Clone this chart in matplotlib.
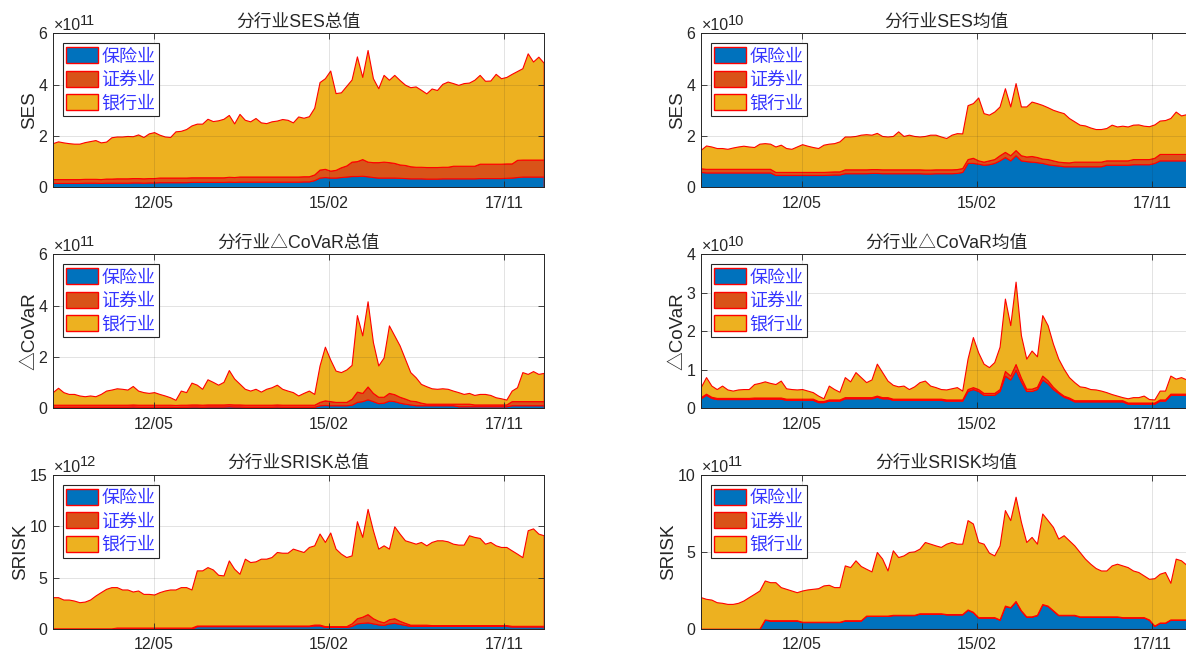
import numpy as np
import pandas as pd
import matplotlib
matplotlib.use("Agg")
import matplotlib.pyplot as plt
from matplotlib.patches import Patch
from matplotlib.ticker import FuncFormatter, FixedLocator
from matplotlib.transforms import offset_copy

plt.rcParams["font.family"] = ["Liberation Sans", "Noto Sans CJK SC", "DejaVu Sans"]

# Observation dates: 93 evenly spaced samples over the study period
dates = pd.date_range("2010-09-30", "2018-06-18", periods=93)

industries = ["保险业", "证券业", "银行业"]
industry_colors = ["#0072BD", "#D95319", "#EDB120"]
tick_dates = pd.to_datetime(["2012-05-01", "2015-02-01", "2017-11-01"])
tick_labels = ["12/05", "15/02", "17/11"]

# ---- SES total (x1e11) ----
ses_sum_ins = [0.17, 0.17, 0.17, 0.17, 0.17, 0.17, 0.18, 0.18, 0.18, 0.17,
               0.18, 0.18, 0.18, 0.18, 0.18, 0.19, 0.19, 0.18, 0.19, 0.19,
               0.20, 0.20, 0.20, 0.20, 0.20, 0.20, 0.21, 0.21, 0.21, 0.21,
               0.21, 0.21, 0.21, 0.22, 0.21, 0.22, 0.22, 0.22, 0.22, 0.22,
               0.22, 0.22, 0.22, 0.22, 0.22, 0.22, 0.22, 0.23, 0.23, 0.28,
               0.38, 0.40, 0.38, 0.38, 0.40, 0.42, 0.44, 0.44, 0.45, 0.43,
               0.40, 0.38, 0.38, 0.38, 0.38, 0.37, 0.36, 0.35, 0.35, 0.35,
               0.34, 0.34, 0.34, 0.35, 0.35, 0.35, 0.35, 0.35, 0.35, 0.35,
               0.36, 0.36, 0.36, 0.36, 0.36, 0.37, 0.38, 0.40, 0.42, 0.42,
               0.42, 0.42, 0.42]
ses_sum_sec = [0.15, 0.15, 0.15, 0.15, 0.15, 0.15, 0.15, 0.15, 0.15, 0.15,
               0.16, 0.16, 0.17, 0.17, 0.17, 0.17, 0.17, 0.17, 0.17, 0.17,
               0.18, 0.18, 0.18, 0.18, 0.18, 0.18, 0.18, 0.18, 0.18, 0.18,
               0.18, 0.18, 0.18, 0.19, 0.19, 0.20, 0.20, 0.20, 0.20, 0.20,
               0.20, 0.20, 0.20, 0.20, 0.20, 0.20, 0.20, 0.20, 0.20, 0.22,
               0.31, 0.32, 0.27, 0.30, 0.38, 0.43, 0.56, 0.58, 0.65, 0.57,
               0.58, 0.60, 0.62, 0.60, 0.57, 0.52, 0.51, 0.47, 0.45, 0.45,
               0.45, 0.45, 0.45, 0.45, 0.45, 0.49, 0.49, 0.49, 0.49, 0.49,
               0.56, 0.56, 0.56, 0.56, 0.56, 0.56, 0.55, 0.67, 0.66, 0.66,
               0.66, 0.66, 0.66]
ses_sum_bank = [1.40, 1.47, 1.43, 1.40, 1.38, 1.38, 1.43, 1.47, 1.51, 1.43,
                1.44, 1.61, 1.63, 1.63, 1.65, 1.63, 1.70, 1.61, 1.74, 1.79,
                1.67, 1.60, 1.58, 1.80, 1.82, 1.89, 2.02, 2.09, 2.09, 2.28,
                2.19, 2.22, 2.28, 2.41, 2.09, 2.44, 2.21, 2.15, 2.28, 2.11,
                2.08, 2.15, 2.18, 2.24, 2.21, 2.11, 2.34, 2.28, 2.34, 2.60,
                3.41, 3.53, 3.90, 2.99, 2.92, 3.10, 3.20, 4.08, 3.20, 4.35,
                3.27, 2.88, 3.38, 3.21, 3.43, 3.29, 3.13, 3.08, 3.13, 3.00,
                2.87, 3.06, 3.00, 3.23, 3.32, 3.22, 3.15, 3.22, 3.24, 3.35,
                3.46, 3.23, 3.24, 3.50, 3.33, 3.37, 3.49, 3.46, 3.56, 4.14,
                3.82, 4.01, 3.77]

# ---- SES mean (x1e10) ----
ses_avg_ins = [0.60, 0.58, 0.58, 0.58, 0.58, 0.58, 0.58, 0.58, 0.58, 0.58,
               0.58, 0.58, 0.58, 0.58, 0.48, 0.48, 0.48, 0.48, 0.48, 0.48,
               0.48, 0.48, 0.48, 0.48, 0.49, 0.50, 0.50, 0.55, 0.55, 0.55,
               0.55, 0.55, 0.56, 0.56, 0.55, 0.55, 0.55, 0.55, 0.55, 0.55,
               0.55, 0.55, 0.54, 0.54, 0.55, 0.55, 0.55, 0.55, 0.56, 0.60,
               0.95, 0.95, 0.92, 0.88, 0.90, 0.95, 1.05, 1.18, 1.05, 1.25,
               1.05, 1.02, 1.00, 0.98, 0.95, 0.90, 0.87, 0.85, 0.82, 0.82,
               0.82, 0.82, 0.82, 0.82, 0.82, 0.82, 0.88, 0.88, 0.88, 0.88,
               0.88, 0.90, 0.90, 0.90, 0.90, 0.95, 1.05, 1.05, 1.05, 1.05,
               1.05, 1.05, 1.05]
ses_avg_sec = [0.14, 0.14, 0.14, 0.14, 0.14, 0.14, 0.14, 0.14, 0.14, 0.14,
               0.14, 0.14, 0.14, 0.14, 0.12, 0.12, 0.12, 0.12, 0.12, 0.12,
               0.12, 0.12, 0.12, 0.12, 0.12, 0.12, 0.12, 0.15, 0.15, 0.15,
               0.15, 0.15, 0.15, 0.15, 0.15, 0.15, 0.15, 0.15, 0.15, 0.15,
               0.15, 0.15, 0.15, 0.15, 0.15, 0.15, 0.15, 0.15, 0.15, 0.15,
               0.15, 0.20, 0.13, 0.12, 0.15, 0.15, 0.20, 0.20, 0.20, 0.20,
               0.20, 0.18, 0.22, 0.20, 0.17, 0.20, 0.18, 0.15, 0.16, 0.15,
               0.18, 0.18, 0.18, 0.18, 0.18, 0.18, 0.17, 0.17, 0.17, 0.17,
               0.17, 0.20, 0.20, 0.20, 0.20, 0.20, 0.25, 0.25, 0.25, 0.25,
               0.25, 0.25, 0.25]
ses_avg_bank = [0.72, 0.91, 0.87, 0.81, 0.81, 0.78, 0.83, 0.87, 0.90, 0.87,
                0.85, 0.98, 1.00, 0.98, 0.99, 1.06, 0.93, 0.90, 0.99, 1.08,
                1.02, 0.97, 0.93, 1.06, 1.09, 1.10, 1.17, 1.28, 1.28, 1.30,
                1.35, 1.37, 1.34, 1.41, 1.30, 1.28, 1.30, 1.48, 1.30, 1.35,
                1.30, 1.28, 1.31, 1.36, 1.35, 1.28, 1.22, 1.35, 1.40, 1.35,
                2.10, 2.13, 2.45, 1.89, 1.78, 1.85, 1.90, 2.48, 1.90, 2.61,
                1.90, 1.95, 2.12, 2.10, 2.09, 2.02, 1.97, 1.95, 1.91, 1.73,
                1.57, 1.44, 1.41, 1.33, 1.27, 1.27, 1.26, 1.39, 1.32, 1.35,
                1.32, 1.34, 1.35, 1.30, 1.28, 1.30, 1.30, 1.32, 1.40, 1.65,
                1.50, 1.55, 1.55]

# ---- delta CoVaR total (x1e11) ----
covar_sum_ins = [0.06, 0.06, 0.06, 0.06, 0.06, 0.06, 0.06, 0.06, 0.06, 0.06,
                 0.06, 0.06, 0.06, 0.06, 0.06, 0.07, 0.06, 0.06, 0.06, 0.06,
                 0.06, 0.06, 0.06, 0.05, 0.06, 0.06, 0.07, 0.07, 0.06, 0.07,
                 0.07, 0.07, 0.07, 0.08, 0.07, 0.07, 0.06, 0.06, 0.06, 0.06,
                 0.06, 0.06, 0.07, 0.06, 0.06, 0.06, 0.06, 0.06, 0.06, 0.06,
                 0.12, 0.13, 0.12, 0.12, 0.12, 0.12, 0.14, 0.25, 0.28, 0.35,
                 0.28, 0.20, 0.22, 0.30, 0.28, 0.22, 0.18, 0.15, 0.12, 0.12,
                 0.12, 0.12, 0.12, 0.12, 0.12, 0.12, 0.08, 0.08, 0.08, 0.08,
                 0.08, 0.08, 0.08, 0.08, 0.08, 0.08, 0.12, 0.12, 0.12, 0.12,
                 0.12, 0.12, 0.12]
covar_sum_sec = [0.08, 0.08, 0.08, 0.08, 0.08, 0.08, 0.08, 0.08, 0.08, 0.08,
                 0.08, 0.08, 0.08, 0.08, 0.08, 0.08, 0.08, 0.08, 0.08, 0.08,
                 0.08, 0.08, 0.08, 0.08, 0.08, 0.08, 0.08, 0.08, 0.08, 0.08,
                 0.08, 0.08, 0.08, 0.08, 0.08, 0.08, 0.08, 0.08, 0.08, 0.08,
                 0.08, 0.08, 0.08, 0.08, 0.08, 0.08, 0.08, 0.08, 0.08, 0.08,
                 0.13, 0.18, 0.16, 0.13, 0.13, 0.13, 0.23, 0.40, 0.32, 0.50,
                 0.32, 0.25, 0.23, 0.30, 0.27, 0.23, 0.20, 0.15, 0.16, 0.10,
                 0.06, 0.06, 0.06, 0.06, 0.06, 0.06, 0.10, 0.10, 0.10, 0.07,
                 0.07, 0.07, 0.07, 0.07, 0.07, 0.07, 0.16, 0.16, 0.16, 0.16,
                 0.16, 0.16, 0.16]
covar_sum_bank = [0.49, 0.66, 0.49, 0.42, 0.42, 0.36, 0.33, 0.36, 0.33, 0.42,
                  0.55, 0.59, 0.64, 0.62, 0.59, 0.72, 0.55, 0.49, 0.46, 0.49,
                  0.42, 0.36, 0.29, 0.20, 0.55, 0.49, 0.85, 0.77, 0.62, 0.98,
                  0.88, 0.77, 0.88, 1.33, 1.01, 0.81, 0.62, 0.55, 0.62, 0.51,
                  0.62, 0.68, 0.77, 0.62, 0.55, 0.49, 0.36, 0.46, 0.55, 0.42,
                  1.42, 2.09, 1.62, 1.22, 1.16, 1.26, 1.32, 2.98, 2.24, 3.32,
                  1.98, 1.22, 1.53, 2.63, 2.29, 2.00, 1.55, 1.11, 0.93, 0.73,
                  0.68, 0.60, 0.58, 0.60, 0.58, 0.51, 0.45, 0.38, 0.42, 0.37,
                  0.41, 0.41, 0.37, 0.28, 0.24, 0.19, 0.41, 0.54, 1.13, 1.06,
                  1.17, 1.06, 1.10]

# ---- delta CoVaR mean (x1e10) ----
covar_avg_ins = [0.26, 0.35, 0.27, 0.24, 0.24, 0.24, 0.24, 0.24, 0.24, 0.24,
                 0.25, 0.25, 0.25, 0.25, 0.25, 0.25, 0.22, 0.22, 0.22, 0.22,
                 0.22, 0.22, 0.16, 0.16, 0.20, 0.20, 0.20, 0.26, 0.26, 0.26,
                 0.26, 0.26, 0.26, 0.30, 0.26, 0.26, 0.22, 0.22, 0.22, 0.22,
                 0.22, 0.22, 0.22, 0.22, 0.22, 0.22, 0.20, 0.20, 0.20, 0.20,
                 0.45, 0.50, 0.45, 0.35, 0.35, 0.35, 0.45, 0.85, 0.75, 1.00,
                 0.70, 0.45, 0.45, 0.50, 0.75, 0.65, 0.50, 0.40, 0.30, 0.25,
                 0.18, 0.18, 0.18, 0.18, 0.18, 0.18, 0.18, 0.18, 0.18, 0.18,
                 0.12, 0.12, 0.12, 0.12, 0.12, 0.12, 0.20, 0.20, 0.35, 0.35,
                 0.35, 0.35, 0.35]
covar_avg_sec = [0.03, 0.03, 0.03, 0.03, 0.03, 0.03, 0.03, 0.03, 0.03, 0.03,
                 0.03, 0.03, 0.03, 0.03, 0.03, 0.03, 0.03, 0.03, 0.03, 0.03,
                 0.03, 0.03, 0.03, 0.03, 0.03, 0.03, 0.03, 0.03, 0.03, 0.03,
                 0.03, 0.03, 0.03, 0.03, 0.03, 0.03, 0.03, 0.03, 0.03, 0.03,
                 0.03, 0.03, 0.03, 0.03, 0.03, 0.03, 0.03, 0.03, 0.03, 0.03,
                 0.05, 0.05, 0.05, 0.05, 0.05, 0.05, 0.05, 0.12, 0.10, 0.15,
                 0.10, 0.06, 0.06, 0.06, 0.10, 0.08, 0.06, 0.03, 0.03, 0.03,
                 0.03, 0.03, 0.03, 0.03, 0.03, 0.03, 0.03, 0.03, 0.03, 0.03,
                 0.03, 0.03, 0.03, 0.03, 0.03, 0.03, 0.03, 0.03, 0.03, 0.03,
                 0.03, 0.03, 0.03]
covar_avg_bank = [0.26, 0.43, 0.29, 0.23, 0.32, 0.22, 0.19, 0.22, 0.23, 0.23,
                  0.35, 0.38, 0.42, 0.38, 0.35, 0.44, 0.27, 0.25, 0.24, 0.25,
                  0.21, 0.17, 0.14, 0.07, 0.36, 0.27, 0.20, 0.52, 0.41, 0.65,
                  0.52, 0.39, 0.46, 0.83, 0.65, 0.43, 0.36, 0.32, 0.34, 0.25,
                  0.32, 0.43, 0.47, 0.34, 0.30, 0.25, 0.26, 0.29, 0.32, 0.23,
                  0.79, 1.30, 0.95, 0.76, 0.67, 0.80, 1.10, 1.88, 1.31, 2.14,
                  1.10, 0.78, 0.99, 0.79, 1.57, 1.43, 1.12, 0.86, 0.70, 0.53,
                  0.47, 0.36, 0.34, 0.29, 0.28, 0.25, 0.21, 0.16, 0.12, 0.08,
                  0.11, 0.14, 0.14, 0.18, 0.09, 0.08, 0.23, 0.23, 0.47, 0.39,
                  0.43, 0.37, 0.37]

# ---- SRISK total (x1e12) ----
srisk_sum_ins = [0.02, 0.02, 0.02, 0.02, 0.02, 0.02, 0.02, 0.02, 0.02, 0.02,
                 0.02, 0.02, 0.02, 0.02, 0.02, 0.02, 0.02, 0.02, 0.02, 0.02,
                 0.02, 0.02, 0.02, 0.02, 0.02, 0.02, 0.02, 0.28, 0.28, 0.28,
                 0.28, 0.28, 0.28, 0.28, 0.28, 0.28, 0.28, 0.28, 0.28, 0.28,
                 0.28, 0.28, 0.28, 0.28, 0.28, 0.28, 0.28, 0.28, 0.28, 0.35,
                 0.35, 0.20, 0.20, 0.20, 0.20, 0.20, 0.30, 0.55, 0.60, 0.65,
                 0.55, 0.45, 0.40, 0.55, 0.60, 0.50, 0.40, 0.30, 0.30, 0.30,
                 0.30, 0.30, 0.30, 0.30, 0.30, 0.30, 0.30, 0.30, 0.30, 0.30,
                 0.30, 0.30, 0.30, 0.30, 0.30, 0.30, 0.25, 0.25, 0.25, 0.25,
                 0.25, 0.25, 0.25]
srisk_sum_sec = [0.04, 0.04, 0.04, 0.04, 0.04, 0.04, 0.04, 0.04, 0.04, 0.04,
                 0.04, 0.04, 0.12, 0.12, 0.12, 0.12, 0.12, 0.12, 0.12, 0.12,
                 0.12, 0.12, 0.12, 0.12, 0.12, 0.12, 0.12, 0.06, 0.06, 0.06,
                 0.06, 0.06, 0.06, 0.06, 0.06, 0.06, 0.06, 0.06, 0.06, 0.06,
                 0.06, 0.06, 0.06, 0.06, 0.06, 0.06, 0.06, 0.06, 0.06, 0.08,
                 0.08, 0.08, 0.08, 0.08, 0.08, 0.08, 0.25, 0.50, 0.60, 0.80,
                 0.50, 0.35, 0.25, 0.40, 0.45, 0.30, 0.20, 0.12, 0.12, 0.12,
                 0.12, 0.08, 0.08, 0.08, 0.08, 0.08, 0.08, 0.08, 0.08, 0.08,
                 0.08, 0.08, 0.08, 0.08, 0.08, 0.08, 0.06, 0.06, 0.06, 0.06,
                 0.06, 0.06, 0.06]
srisk_sum_bank = [3.04, 3.04, 2.81, 2.81, 2.71, 2.55, 2.61, 2.81, 3.20, 3.53,
                  3.85, 4.02, 3.94, 3.71, 3.71, 3.51, 3.61, 3.28, 3.28, 3.22,
                  3.45, 3.61, 3.71, 3.71, 3.94, 3.94, 3.71, 5.37, 5.37, 5.69,
                  5.46, 4.94, 4.88, 6.34, 5.53, 5.04, 6.51, 6.18, 6.25, 6.51,
                  6.51, 6.67, 7.16, 7.09, 7.09, 7.49, 7.32, 7.16, 7.65, 7.72,
                  8.87, 8.20, 9.12, 7.55, 7.06, 6.73, 6.62, 9.45, 7.77, 10.25,
                  8.57, 7.03, 7.50, 6.88, 8.95, 8.49, 8.04, 8.06, 7.89, 8.06,
                  7.73, 8.10, 8.26, 8.26, 8.16, 7.93, 7.84, 7.84, 8.75, 8.59,
                  8.49, 7.93, 8.10, 7.77, 7.61, 7.61, 7.35, 7.03, 6.69, 9.31,
                  9.49, 8.98, 8.82]

# ---- SRISK mean (x1e11) ----
srisk_avg_ins = [0.00, 0.00, 0.00, 0.00, 0.00, 0.00, 0.00, 0.00, 0.00, 0.00,
                 0.00, 0.00, 0.60, 0.55, 0.55, 0.55, 0.55, 0.55, 0.55, 0.45,
                 0.45, 0.45, 0.45, 0.45, 0.45, 0.45, 0.45, 0.55, 0.55, 0.55,
                 0.55, 0.85, 0.85, 0.85, 0.85, 0.85, 0.90, 0.90, 0.90, 0.90,
                 0.90, 1.00, 1.00, 1.00, 1.00, 1.00, 0.95, 0.95, 0.95, 0.95,
                 1.25, 1.10, 0.75, 0.75, 0.75, 0.75, 0.60, 1.50, 1.40, 1.80,
                 1.20, 0.80, 0.80, 0.90, 1.60, 1.50, 1.20, 0.90, 0.90, 0.90,
                 0.90, 0.80, 0.80, 0.80, 0.80, 0.80, 0.80, 0.80, 0.80, 0.75,
                 0.75, 0.75, 0.75, 0.75, 0.60, 0.20, 0.40, 0.40, 0.60, 0.60,
                 0.60, 0.60, 0.60]
srisk_avg_sec = [0.02, 0.02, 0.02, 0.02, 0.02, 0.02, 0.02, 0.02, 0.02, 0.02,
                 0.02, 0.02, 0.02, 0.02, 0.02, 0.02, 0.02, 0.02, 0.02, 0.02,
                 0.02, 0.02, 0.02, 0.02, 0.02, 0.02, 0.02, 0.02, 0.02, 0.02,
                 0.02, 0.02, 0.02, 0.02, 0.02, 0.02, 0.02, 0.02, 0.02, 0.02,
                 0.02, 0.02, 0.02, 0.02, 0.02, 0.02, 0.02, 0.02, 0.02, 0.02,
                 0.02, 0.02, 0.02, 0.02, 0.02, 0.02, 0.02, 0.02, 0.02, 0.02,
                 0.02, 0.02, 0.02, 0.02, 0.02, 0.02, 0.02, 0.02, 0.02, 0.02,
                 0.02, 0.02, 0.02, 0.02, 0.02, 0.02, 0.02, 0.02, 0.02, 0.02,
                 0.02, 0.02, 0.02, 0.02, 0.02, 0.02, 0.02, 0.02, 0.02, 0.02,
                 0.02, 0.02, 0.02]
srisk_avg_bank = [2.05, 1.94, 1.89, 1.72, 1.68, 1.61, 1.61, 1.68, 1.83, 2.05,
                  2.26, 2.48, 2.53, 2.47, 2.47, 2.15, 2.04, 1.93, 1.82, 2.03,
                  2.10, 2.14, 2.18, 2.36, 2.40, 2.25, 2.25, 3.56, 3.45, 3.89,
                  3.52, 3.04, 2.87, 4.13, 3.70, 2.93, 4.19, 3.75, 3.86, 4.08,
                  4.12, 4.20, 4.63, 4.52, 4.41, 4.31, 4.57, 4.68, 4.57, 4.57,
                  5.80, 5.73, 4.88, 4.77, 4.19, 4.01, 4.81, 6.20, 5.65, 6.77,
                  5.74, 4.83, 5.16, 4.62, 5.88, 5.55, 5.41, 4.95, 5.17, 4.84,
                  4.51, 4.18, 3.75, 3.42, 3.14, 2.98, 2.98, 3.31, 3.42, 3.36,
                  3.25, 3.03, 2.93, 2.71, 2.64, 3.08, 3.17, 3.28, 2.38, 3.95,
                  3.84, 3.55, 3.58]

panels = [
    ((ses_sum_ins, ses_sum_sec, ses_sum_bank), "分行业SES总值", "SES", 11, [0, 2, 4, 6]),
    ((ses_avg_ins, ses_avg_sec, ses_avg_bank), "分行业SES均值", "SES", 10, [0, 2, 4, 6]),
    ((covar_sum_ins, covar_sum_sec, covar_sum_bank), "分行业△CoVaR总值", "△CoVaR", 11, [0, 2, 4, 6]),
    ((covar_avg_ins, covar_avg_sec, covar_avg_bank), "分行业△CoVaR均值", "△CoVaR", 10, [0, 1, 2, 3, 4]),
    ((srisk_sum_ins, srisk_sum_sec, srisk_sum_bank), "分行业SRISK总值", "SRISK", 12, [0, 5, 10, 15]),
    ((srisk_avg_ins, srisk_avg_sec, srisk_avg_bank), "分行业SRISK均值", "SRISK", 11, [0, 5, 10]),
]

W, H = 1186, 655
fig = plt.figure(figsize=(W / 100, H / 100), dpi=100)

col_left = [52.7 / W, 700.7 / W]
ax_w = 491 / W
ax_h = 154 / H
row_bottom = [(H - 187.3) / H, (H - 408.3) / H, (H - 629) / H]

dark = "#262626"

for k, (series, title, ylab, expo, yt) in enumerate(panels):
    r, c = divmod(k, 2)
    ax = fig.add_axes([col_left[c], row_bottom[r], ax_w, ax_h])
    scale = 10.0 ** expo
    layers = [np.asarray(s) * scale for s in series]
    ax.stackplot(dates, *layers, colors=industry_colors,
                 edgecolor="#FF0000", linewidth=0.8)

    ax.set_xlim(dates[0], dates[-1])
    ax.set_ylim(yt[0] * scale, yt[-1] * scale)
    ax.yaxis.set_major_locator(FixedLocator([v * scale for v in yt]))
    ax.yaxis.set_major_formatter(FuncFormatter(lambda v, p, s=scale: f"{v / s:g}"))
    ax.set_xticks(tick_dates)
    ax.set_xticklabels(tick_labels)

    ax.grid(True, color=dark, alpha=0.15, linewidth=0.6)
    ax.tick_params(direction="in", length=4, top=True, right=True,
                   labelsize=11.5, colors=dark, width=0.6)
    ax.tick_params(axis="x", pad=6)
    ax.tick_params(axis="y", pad=4)
    for sp in ax.spines.values():
        sp.set_color(dark)
        sp.set_linewidth(0.7)

    ax.set_title(title, fontsize=12.75, color=dark, pad=5)
    ax.set_ylabel(ylab, fontsize=13.5, color=dark, labelpad=0)

    # exponent label above the y axis: "x10" with a raised power
    base_tr = offset_copy(ax.transAxes, fig=fig, x=1.5, y=3.0, units="dots")
    ax.text(0, 1, "×10", transform=base_tr, ha="left", va="baseline",
            fontsize=11.5, color=dark)
    sup_tr = offset_copy(ax.transAxes, fig=fig, x=27.5, y=8.5, units="dots")
    ax.text(0, 1, str(expo), transform=sup_tr, ha="left", va="baseline",
            fontsize=10.5, color=dark)

    handles = [Patch(facecolor=col, edgecolor="#FF0000", linewidth=1.0)
               for col in industry_colors]
    leg = ax.legend(handles, industries, loc="upper left",
                    bbox_to_anchor=(0.02, 0.935), borderaxespad=0,
                    prop={"family": "Noto Sans CJK SC", "size": 13},
                    handlelength=1.72, handleheight=1.0, handletextpad=0.2,
                    labelspacing=0.28, borderpad=0.22, fancybox=False,
                    framealpha=1, edgecolor=dark)
    leg.get_frame().set_linewidth(0.8)
    for t in leg.get_texts():
        t.set_color("#3535FF")

fig.savefig("out.png", dpi=100)
